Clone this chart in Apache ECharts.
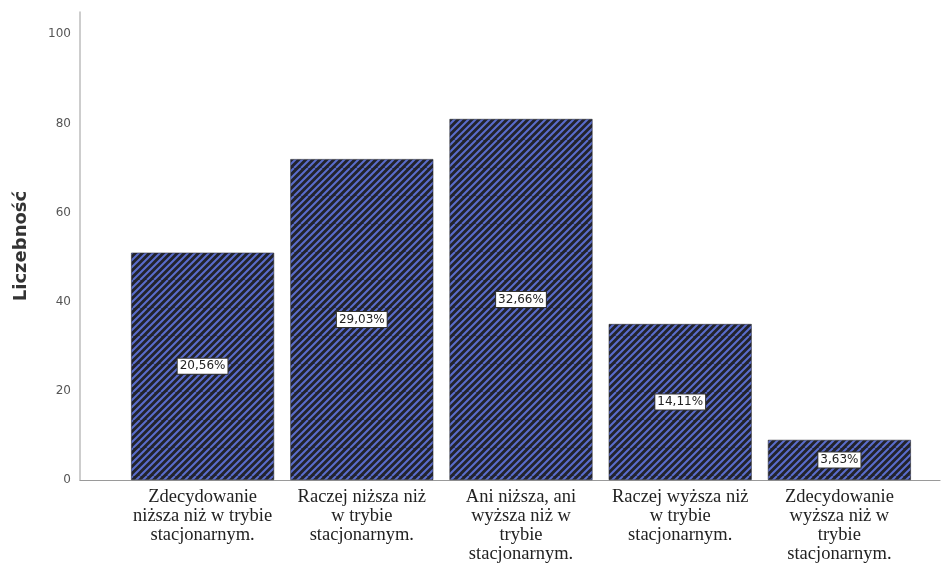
<!DOCTYPE html>
<html>
<head>
<meta charset="utf-8">
<script src="https://cdn.jsdelivr.net/npm/echarts@6/dist/echarts.min.js"></script>
<style>html,body{margin:0;padding:0;background:#fff;}#c{width:951px;height:566px;}</style>
</head>
<body>
<div id="c"></div>
<script>
var categories = [
  'Zdecydowanie\nniższa niż w trybie\nstacjonarnym.',
  'Raczej niższa niż\nw trybie\nstacjonarnym.',
  'Ani niższa, ani\nwyższa niż w\ntrybie\nstacjonarnym.',
  'Raczej wyższa niż\nw trybie\nstacjonarnym.',
  'Zdecydowanie\nwyższa niż w\ntrybie\nstacjonarnym.'
];
var counts = [51, 72, 81, 35, 9];
var yTicks = [0, 20, 40, 60, 80, 100];

var total = counts.reduce(function(a, b){ return a + b; }, 0);

function makePattern() {
  var p = 7, n = 4, s = p * n;
  var cv = document.createElement('canvas');
  cv.width = s; cv.height = s;
  var ctx = cv.getContext('2d');
  ctx.fillStyle = '#22232c';
  ctx.fillRect(0, 0, s, s);
  ctx.strokeStyle = '#5a6dcc';
  ctx.lineWidth = 2.0;
  ctx.beginPath();
  for (var k = -n; k <= n; k++) {
    ctx.moveTo(k * p, s);
    ctx.lineTo(k * p + s, 0);
  }
  ctx.stroke();
  return cv;
}

var chart = echarts.init(document.getElementById('c'));
chart.setOption({
  backgroundColor: '#ffffff',
  animation: false,
  grid: [
    { left: 80, right: 11, top: 12, bottom: 86 },
    { left: 123, right: 32, top: 12, bottom: 86 }
  ],
  xAxis: [
    { type: 'value', gridIndex: 0, min: 0, max: 1,
      axisLine: { show: true, onZero: false, lineStyle: { color: '#9a9a9a', width: 1.2 } },
      axisTick: { show: false }, axisLabel: { show: false }, splitLine: { show: false } },
    { type: 'category', gridIndex: 1, data: categories,
      axisLine: { show: false }, axisTick: { show: false },
      axisLabel: { margin: 8, interval: 0, fontFamily: 'Liberation Serif', fontSize: 18.5,
        color: '#222', lineHeight: 19 } }
  ],
  yAxis: [
    { type: 'value', gridIndex: 0, min: 0, max: 105, interval: 20,
      name: 'Liczebność', nameLocation: 'middle', nameRotate: 90, nameGap: 50,
      nameTextStyle: { fontFamily: 'DejaVu Sans', fontWeight: 'bold', fontSize: 18, color: '#333' },
      axisLine: { show: true, lineStyle: { color: '#bdbdbd', width: 1.5 } },
      axisTick: { show: false }, splitLine: { show: false },
      axisLabel: { margin: 9, fontFamily: 'DejaVu Sans', fontSize: 12, color: '#555',
        formatter: function(v){ return yTicks.indexOf(v) >= 0 ? String(v) : ''; } } },
    { type: 'value', gridIndex: 1, min: 0, max: 105, show: false }
  ],
  series: [{
    type: 'bar', xAxisIndex: 1, yAxisIndex: 1,
    data: counts, barWidth: 143,
    itemStyle: { color: { image: makePattern(), repeat: 'repeat' }, borderColor: '#2a2b35', borderWidth: 0.6 },
    label: {
      show: true, position: 'inside',
      formatter: function(p){ return (p.value / total * 100).toFixed(2).replace('.', ',') + '%'; },
      fontFamily: 'DejaVu Sans', fontSize: 12, color: '#222',
      backgroundColor: '#fff', borderColor: '#333', borderWidth: 1, padding: [2, 2, 1, 2]
    }
  }]
});
</script>
</body>
</html>
